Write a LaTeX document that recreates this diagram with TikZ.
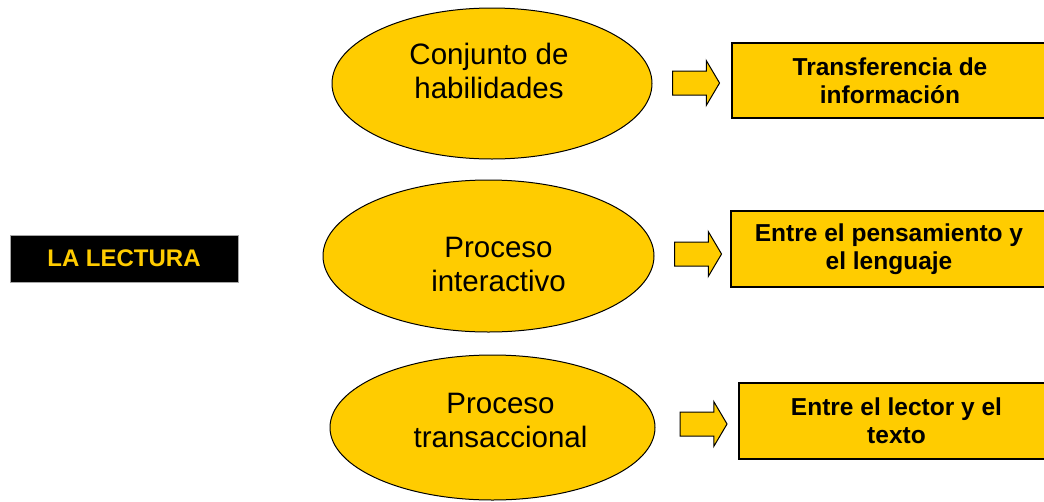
\documentclass[tikz,border=0pt]{standalone}
\usepackage{fontspec}
\setmainfont{Liberation Sans}
\usetikzlibrary{shapes.geometric,shapes.arrows}
\definecolor{gold}{HTML}{FFCC00}
\tikzset{
  oval/.style={ellipse, draw=black, line width=1pt, fill=gold, inner sep=0pt},
  ovaltext/.style={align=center, inner sep=0pt, font=\fontsize{29.5}{34}\selectfont},
  infobox/.style={rectangle, draw=black, line width=1.5pt, fill=gold, inner sep=0pt,
     align=center, font=\bfseries\fontsize{24.5}{28}\selectfont},
  blockarrow/.style={single arrow, draw=black, line width=1pt, fill=gold,
     inner xsep=0pt, inner ysep=11.5pt,
     minimum height=47pt, minimum width=44pt, single arrow head extend=10.5pt,
     single arrow tip angle=118.8},
  titlebox/.style={rectangle, draw=gray!70, line width=0.6pt, fill=black, text=gold,
     inner sep=0pt, font=\bfseries\fontsize{24}{28}\selectfont}
}
\begin{document}
\begin{tikzpicture}[x=1pt,y=-1pt]
\useasboundingbox (0,0) rectangle (1044,501);
\clip (0,0) rectangle (1044,501);
\fill[white] (0,0) rectangle (1044,501);

\node[titlebox, minimum width=228pt, minimum height=47pt] (title) at (124,258.5) {LA LECTURA};

\node[oval, minimum width=320pt, minimum height=151pt] (e1) at (492,83.5) {};
\node[oval, minimum width=331pt, minimum height=152pt] (e2) at (488.5,256) {};
\node[oval, minimum width=325pt, minimum height=145pt] (e3) at (492.5,427.5) {};

\node[ovaltext] (t1) at (489,71) {Conjunto de\\habilidades};
\node[ovaltext] (t2) at (498.5,264) {Proceso\\interactivo};
\node[ovaltext] (t3) at (500.5,420.5) {Proceso\\transaccional};

\node[blockarrow] (a1) at (692.5,83) {};
\node[blockarrow] (a2) at (694.5,254) {};
\node[blockarrow] (a3) at (700,424) {};

\node[infobox, minimum width=316pt, minimum height=75pt] (b1) at (890,80.5) {Transferencia de\\información};
\node[infobox, minimum width=316pt, minimum height=76pt] (b2) at (889,249) {Entre el pensamiento y\\el lenguaje};
\node[infobox, minimum width=315pt, minimum height=76pt] (b3) at (896.5,421) {Entre el lector y el\\texto};
\end{tikzpicture}
\end{document}
